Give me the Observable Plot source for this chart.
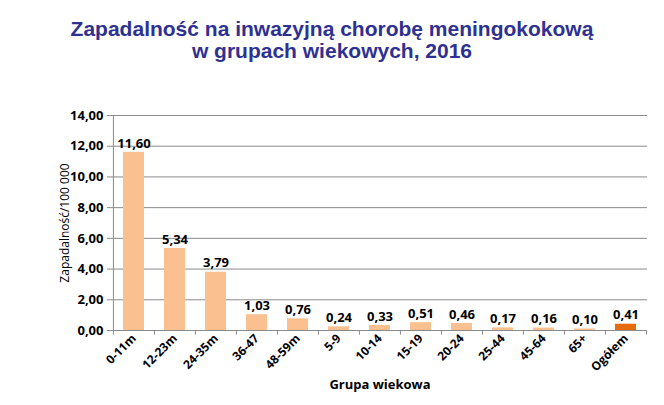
<!DOCTYPE html>
<html><head><meta charset="utf-8">
<script src="https://cdn.jsdelivr.net/npm/d3@7"></script>
<script src="https://cdn.jsdelivr.net/npm/@observablehq/plot@0.6"></script>
<style>
body{margin:0;background:#fff;width:664px;height:405px;overflow:hidden;}
#title{height:70px;box-sizing:border-box;padding-top:18px;text-align:center;font-family:"Liberation Sans",Arial,sans-serif;font-weight:bold;font-size:21px;line-height:22px;color:#2E3192;}
</style></head>
<body>
<div id="title">Zapadalność na inwazyjną chorobę meningokokową<br>w grupach wiekowych, 2016</div>
<div id="chart"></div>
<script>
const categories = ["0-11m","12-23m","24-35m","36-47","48-59m","5-9","10-14","15-19","20-24","25-44","45-64","65+","Ogółem"];
const values = [11.60,5.34,3.79,1.03,0.76,0.24,0.33,0.51,0.46,0.17,0.16,0.10,0.41];
const yTicks = [0,2,4,6,8,10,12,14];
const highlight = "Ogółem";

const data = categories.map((c,i)=>({cat:c,val:values[i]}));
const fmt = v => v.toFixed(2).replace(".",",");
const W = 664, H = 335, mL = 112, mR = 17, mT = 45, mB = 75;
const step = (W - mL - mR) / categories.length;
const font = "'Open Sans', sans-serif";

const chart = Plot.plot({
  width: W, height: H,
  marginLeft: mL, marginRight: mR, marginTop: mT, marginBottom: mB,
  style: {fontFamily: font, fontSize: "12px", color: "#000", background: "#fff"},
  x: {domain: categories, paddingInner: 0.48, paddingOuter: 0.24, label: null},
  y: {domain: [0,14], label: null},
  marks: [
    Plot.ruleY(yTicks.filter(d=>d>0), {stroke:"#8a8a8a", strokeWidth:1}),
    Plot.barY(data, {x:"cat", y:"val", fill: d => d.cat === highlight ? "#E46C0A" : "#FAC090"}),
    Plot.text(data, {x:"cat", y:"val", text: d=>fmt(d.val), dy:-9, fontWeight:"bold", fontSize:13, fill:"#000"}),
    Plot.ruleY([0], {stroke:"#8a8a8a"}),
    Plot.ruleX([categories[0]], {x:d=>d, y1:0, y2:14, dx:-step/2, stroke:"#8a8a8a"}),
    Plot.ruleX(categories, {x:d=>d, y1:0, y2:-0.3, dx:-step/2, stroke:"#8a8a8a"}),
    Plot.ruleX([categories[categories.length-1]], {x:d=>d, y1:0, y2:-0.3, dx:step/2, stroke:"#8a8a8a"}),
    Plot.axisY({ticks: yTicks, tickFormat: fmt, tickSize: 5, tickPadding: 4, fontWeight:"bold", fontSize: 13, label: null, stroke:"#8a8a8a"}),
    Plot.axisX({tickSize: 0, tickRotate: -45, tickPadding: 6, label: null, fontSize: 12, fontWeight:"bold"}),
    Plot.text(["Grupa wiekowa"], {frameAnchor:"bottom", dy: 58, fontWeight:"bold", fontSize: 13}),
    Plot.text(["Zapadalność/100 000"], {frameAnchor:"left", textAnchor:"middle", rotate:-90, dx:-47, fontSize: 12})
  ]
});
document.getElementById("chart").appendChild(chart);
</script>
</body></html>
